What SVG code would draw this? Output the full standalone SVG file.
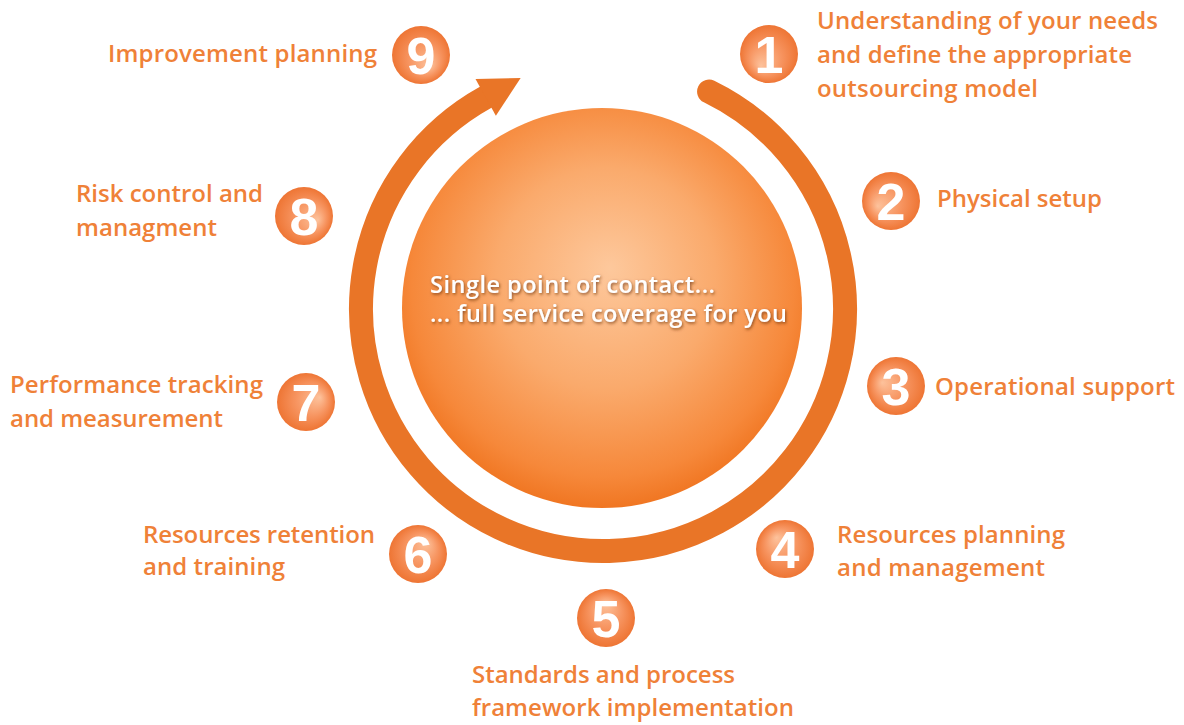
<svg xmlns="http://www.w3.org/2000/svg" width="1184" height="725" viewBox="0 0 1184 725">
<defs>
<style>
.lbl{font-family:"Open Sans","Liberation Sans",sans-serif;font-weight:600;font-size:24px;fill:#EF8138}
.num{font-family:"Liberation Sans",Arial,sans-serif;font-weight:700;font-size:52px;fill:#ffffff;text-anchor:middle}
.ctr{font-family:"Open Sans","Liberation Sans",sans-serif;font-weight:600;font-size:23.5px;fill:#ffffff}
.ring{fill:none;stroke:#E97527;stroke-width:24;stroke-linecap:round}
</style>
<radialGradient id="sph" cx="0.5" cy="0.45" r="0.55" fx="0.52" fy="0.4">
<stop offset="0" stop-color="#FDC89C"/>
<stop offset="0.5" stop-color="#FAAA6C"/>
<stop offset="0.87" stop-color="#F6883A"/>
<stop offset="1" stop-color="#F07622"/>
</radialGradient>
<radialGradient id="g1" cx="0.5" cy="0.5" r="0.5" fx="0.36" fy="0.71"><stop offset="0" stop-color="#FDC29C"/><stop offset="0.55" stop-color="#F79561"/><stop offset="1" stop-color="#EE7534"/></radialGradient>
<radialGradient id="g2" cx="0.5" cy="0.5" r="0.5" fx="0.27" fy="0.59"><stop offset="0" stop-color="#FDC29C"/><stop offset="0.55" stop-color="#F79561"/><stop offset="1" stop-color="#EE7534"/></radialGradient>
<radialGradient id="g3" cx="0.5" cy="0.5" r="0.5" fx="0.26" fy="0.44"><stop offset="0" stop-color="#FDC29C"/><stop offset="0.55" stop-color="#F79561"/><stop offset="1" stop-color="#EE7534"/></radialGradient>
<radialGradient id="g4" cx="0.5" cy="0.5" r="0.5" fx="0.35" fy="0.30"><stop offset="0" stop-color="#FDC29C"/><stop offset="0.55" stop-color="#F79561"/><stop offset="1" stop-color="#EE7534"/></radialGradient>
<radialGradient id="g5" cx="0.5" cy="0.5" r="0.5" fx="0.5" fy="0.25"><stop offset="0" stop-color="#FDC29C"/><stop offset="0.55" stop-color="#F79561"/><stop offset="1" stop-color="#EE7534"/></radialGradient>
<radialGradient id="g6" cx="0.5" cy="0.5" r="0.5" fx="0.65" fy="0.30"><stop offset="0" stop-color="#FDC29C"/><stop offset="0.55" stop-color="#F79561"/><stop offset="1" stop-color="#EE7534"/></radialGradient>
<radialGradient id="g7" cx="0.5" cy="0.5" r="0.5" fx="0.74" fy="0.42"><stop offset="0" stop-color="#FDC29C"/><stop offset="0.55" stop-color="#F79561"/><stop offset="1" stop-color="#EE7534"/></radialGradient>
<radialGradient id="g8" cx="0.5" cy="0.5" r="0.5" fx="0.74" fy="0.57"><stop offset="0" stop-color="#FDC29C"/><stop offset="0.55" stop-color="#F79561"/><stop offset="1" stop-color="#EE7534"/></radialGradient>
<radialGradient id="g9" cx="0.5" cy="0.5" r="0.5" fx="0.65" fy="0.70"><stop offset="0" stop-color="#FDC29C"/><stop offset="0.55" stop-color="#F79561"/><stop offset="1" stop-color="#EE7534"/></radialGradient>
<filter id="sh" x="-10%" y="-30%" width="120%" height="160%">
<feDropShadow dx="1" dy="1.5" stdDeviation="1.5" flood-color="#6b3310" flood-opacity="0.75"/>
</filter>
</defs>
<rect width="1184" height="725" fill="#ffffff"/>

<g id="connectors">
<path class="ring" d="M 709.09 91.49 A 242 242 0 1 1 485.68 97.34"/>
<polygon points="475.5,78.97 520.66,77.95 495.86,115.71" fill="#E97527"/>
</g>

<g id="center">
<circle cx="602" cy="308" r="200" fill="url(#sph)"/>
<g filter="url(#sh)">
<text class="ctr" x="430" y="293" textLength="285">Single point of contact...</text>
<text class="ctr" x="430" y="322" textLength="357">... full service coverage for you</text>
</g>
</g>

<g id="step1">
<circle cx="769" cy="54" r="29" fill="url(#g1)"/>
<text class="num" x="769" y="72.6">1</text>
<text class="lbl" x="817" y="29" textLength="341">Understanding of your needs</text>
<text class="lbl" x="817" y="63" textLength="315">and define the appropriate</text>
<text class="lbl" x="817" y="97" textLength="221">outsourcing model</text>
</g>

<g id="step2">
<circle cx="891" cy="201" r="29" fill="url(#g2)"/>
<text class="num" x="891" y="219.6">2</text>
<text class="lbl" x="937" y="207" textLength="165">Physical setup</text>
</g>

<g id="step3">
<circle cx="896" cy="386" r="29" fill="url(#g3)"/>
<text class="num" x="896" y="404.6">3</text>
<text class="lbl" x="935" y="395" textLength="240">Operational support</text>
</g>

<g id="step4">
<circle cx="785" cy="549" r="29" fill="url(#g4)"/>
<text class="num" x="785" y="567.6">4</text>
<text class="lbl" x="837" y="543" textLength="228">Resources planning</text>
<text class="lbl" x="837" y="576" textLength="208">and management</text>
</g>

<g id="step5">
<circle cx="606" cy="618" r="29" fill="url(#g5)"/>
<text class="num" x="606" y="636.6">5</text>
<text class="lbl" x="472" y="683" textLength="263">Standards and process</text>
<text class="lbl" x="472" y="716" textLength="322">framework implementation</text>
</g>

<g id="step6">
<circle cx="418" cy="554" r="29" fill="url(#g6)"/>
<text class="num" x="418" y="572.6">6</text>
<text class="lbl" x="143" y="543" textLength="232">Resources retention</text>
<text class="lbl" x="143" y="575" textLength="142">and training</text>
</g>

<g id="step7">
<circle cx="306" cy="402" r="29" fill="url(#g7)"/>
<text class="num" x="306" y="420.6">7</text>
<text class="lbl" x="10" y="393" textLength="253">Performance tracking</text>
<text class="lbl" x="10" y="427" textLength="213">and measurement</text>
</g>

<g id="step8">
<circle cx="304" cy="216" r="29" fill="url(#g8)"/>
<text class="num" x="304" y="234.6">8</text>
<text class="lbl" x="76" y="202" textLength="187">Risk control and</text>
<text class="lbl" x="76" y="236" textLength="141">managment</text>
</g>

<g id="step9">
<circle cx="421" cy="55" r="29" fill="url(#g9)"/>
<text class="num" x="421" y="73.6">9</text>
<text class="lbl" x="108" y="62" textLength="269">Improvement planning</text>
</g>
</svg>
